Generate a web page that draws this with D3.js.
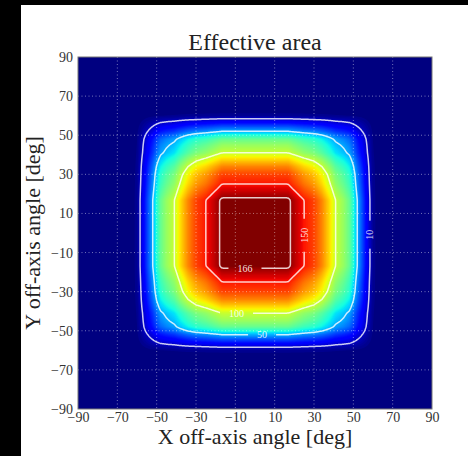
<!DOCTYPE html>
<html>
<head>
<meta charset="utf-8">
<script src="https://cdn.jsdelivr.net/npm/d3@7"></script>
<style>
  body { margin: 0; background: #fff; }
  text { font-family: "Liberation Serif", "DejaVu Serif", serif; }
</style>
</head>
<body>
<svg id="chart"></svg>
<script>
// on-axis effective area profile (cm^2) vs off-axis angle (deg), symmetric
const angles     = [0, 16, 17, 18, 19, 21, 25, 30, 34, 38, 41, 45, 48, 50, 52, 54, 56, 58, 60, 62, 64, 90];
const areaOnAxis = [169, 169, 168.5, 166, 163.5, 159, 150, 142, 130, 114, 100, 90, 80, 66, 50, 37, 24, 12, 3, 0.5, 0, 0];
const peakArea = 169;

const contourLevels = [10, 50, 100, 150, 166];
// where each inline label sits: along-line coordinate + which side
const labelSpots = [
    {level: 10,  along: -0.85, vertical: true},
    {level: 150, along: -1.15, vertical: true},
    {level: 166, along: -5.1,  vertical: false},
    {level: 100, along: -9.4,  vertical: false},
    {level: 50,  along: 3.6,   vertical: false}
];
const tickValues = [-90, -70, -50, -30, -10, 10, 30, 50, 70, 90];

const width = 468, height = 456;
const margin = {top: 57, left: 78, right: 36, bottom: 47};

const svg = d3.select("#chart").attr("width", width).attr("height", height);

svg.append("rect").attr("width", width).attr("height", height).attr("fill", "#fff");
svg.append("rect").attr("width", 21).attr("height", height).attr("fill", "#000");
svg.append("rect").attr("width", width).attr("height", 5).attr("fill", "#000");

const x = d3.scaleLinear().domain([-90, 90]).range([margin.left, width - margin.right]);
const y = d3.scaleLinear().domain([-90, 90]).range([height - margin.bottom, margin.top]);

// jet colormap (matplotlib segment data)
const jr = d3.scaleLinear().domain([0, 0.35, 0.66, 0.89, 1]).range([0, 0, 1, 1, 0.5]).clamp(true);
const jg = d3.scaleLinear().domain([0, 0.125, 0.375, 0.64, 0.91, 1]).range([0, 0, 1, 1, 0, 0]).clamp(true);
const jb = d3.scaleLinear().domain([0, 0.11, 0.34, 0.65, 1]).range([0.5, 1, 1, 0, 0]).clamp(true);
const jet = t => d3.rgb(jr(t) * 255, jg(t) * 255, jb(t) * 255).toString();

// profile lookup and its inverse on the falling part
const profile = d3.scaleLinear().domain(angles).range(areaOnAxis);
const fallIdx = d3.range(2, 21);
const profileInv = d3.scaleLinear()
    .domain(fallIdx.map(i => areaOnAxis[i]))
    .range(fallIdx.map(i => angles[i]));
const area = (ax, ay) => profile(Math.abs(ax)) * profile(Math.abs(ay)) / peakArea;

// grid table for d3.contours
const step = 0.5;
const n = Math.round(180 / step) + 1;
const values = new Float64Array(n * n);
for (let j = 0; j < n; j++) {
    const ay = 90 - j * step;
    for (let i = 0; i < n; i++) {
        values[j * n + i] = area(-90 + i * step, ay);
    }
}
const proj = d3.geoTransform({
    point: function(cx, cy) {
        this.stream.point(x(-90 + (cx - 0.5) * step), y(90 - (cy - 0.5) * step));
    }
});
const path = d3.geoPath(proj);

const defs = svg.append("defs");
defs.append("clipPath").attr("id", "plotclip")
    .append("rect")
    .attr("x", x(-90)).attr("y", y(90))
    .attr("width", x(90) - x(-90)).attr("height", y(-90) - y(90));

const plot = svg.append("g").attr("clip-path", "url(#plotclip)");

plot.append("rect")
    .attr("x", x(-90)).attr("y", y(90))
    .attr("width", x(90) - x(-90)).attr("height", y(-90) - y(90))
    .attr("fill", jet(0));

// colour bands
const bandStep = 1.5;
const bands = d3.contours().size([n, n]).thresholds(d3.range(bandStep, peakArea, bandStep))(values);
plot.append("g")
    .selectAll("path")
    .data(bands)
    .join("path")
    .attr("d", path)
    .attr("fill", d => jet(Math.min(1, (d.value + bandStep / 2) / peakArea)));

// grid
const inner = tickValues.filter(d => Math.abs(d) < 90);
const grid = plot.append("g")
    .attr("stroke", "#fff")
    .attr("stroke-opacity", 0.45)
    .attr("stroke-width", 1)
    .attr("stroke-dasharray", "1,2.5");
grid.selectAll(".gx").data(inner).join("line")
    .attr("x1", d => x(d)).attr("x2", d => x(d))
    .attr("y1", y(90)).attr("y2", y(-90));
grid.selectAll(".gy").data(inner).join("line")
    .attr("y1", d => y(d)).attr("y2", d => y(d))
    .attr("x1", x(-90)).attr("x2", x(90));

// label positions derived from the profile
const labelFont = 10;
const labels = labelSpots.map(s => {
    const other = profileInv(s.level * peakArea / profile(Math.abs(s.along)));
    const txt = String(s.level);
    const w = txt.length * labelFont * 0.5;
    if (s.vertical) {
        return {txt, px: x(other), py: y(s.along), rot: -90, gap: w + 18};
    }
    return {txt, px: x(s.along), py: y(-other), rot: 0, gap: w + 18};
});

const mask = defs.append("mask").attr("id", "labelmask");
mask.append("rect").attr("width", width).attr("height", height).attr("fill", "#fff");
mask.selectAll(".m").data(labels).join("rect")
    .attr("fill", "#000")
    .attr("x", d => d.rot ? d.px - 5 : d.px - d.gap / 2)
    .attr("y", d => d.rot ? d.py - d.gap / 2 : d.py - 5)
    .attr("width", d => d.rot ? 10 : d.gap)
    .attr("height", d => d.rot ? d.gap : 10);

const lines = d3.contours().size([n, n]).thresholds(contourLevels)(values);
plot.append("g")
    .attr("mask", "url(#labelmask)")
    .selectAll("path")
    .data(lines)
    .join("path")
    .attr("d", path)
    .attr("fill", "none")
    .attr("stroke", "#fff")
    .attr("stroke-opacity", 0.8)
    .attr("stroke-width", 1.5);

plot.append("g")
    .selectAll("text")
    .data(labels)
    .join("text")
    .attr("transform", d => `translate(${d.px},${d.py}) rotate(${d.rot})`)
    .attr("text-anchor", "middle")
    .attr("dy", "0.35em")
    .attr("font-size", labelFont)
    .attr("fill", "#fff")
    .attr("fill-opacity", 0.9)
    .text(d => d.txt);

// frame
svg.append("rect")
    .attr("x", x(-90)).attr("y", y(90))
    .attr("width", x(90) - x(-90)).attr("height", y(-90) - y(90))
    .attr("fill", "none").attr("stroke", "#777").attr("stroke-width", 1);

// axes
const fmt = d => d < 0 ? "\u2212" + Math.abs(d) : String(d);
const xAxis = svg.append("g")
    .attr("transform", `translate(0,${y(-90)})`)
    .call(d3.axisBottom(x).tickValues(tickValues).tickFormat(fmt).tickSize(0).tickPadding(3));
const yAxis = svg.append("g")
    .attr("transform", `translate(${x(-90)},0)`)
    .call(d3.axisLeft(y).tickValues(tickValues).tickFormat(fmt).tickSize(0).tickPadding(5));
[xAxis, yAxis].forEach(a => {
    a.select(".domain").remove();
    a.selectAll("text")
        .attr("font-family", "'Liberation Serif', serif")
        .attr("font-size", 14)
        .attr("fill", "#333");
});

svg.append("text")
    .attr("x", (x(-90) + x(90)) / 2).attr("y", 50)
    .attr("text-anchor", "middle")
    .attr("font-size", 24)
    .attr("fill", "#222")
    .text("Effective area");

svg.append("text")
    .attr("x", (x(-90) + x(90)) / 2).attr("y", 444)
    .attr("text-anchor", "middle")
    .attr("font-size", 22)
    .attr("fill", "#222")
    .text("X off-axis angle [deg]");

svg.append("text")
    .attr("transform", `translate(40,${(y(-90) + y(90)) / 2}) rotate(-90)`)
    .attr("text-anchor", "middle")
    .attr("font-size", 22)
    .attr("fill", "#222")
    .text("Y off-axis angle [deg]");
</script>
</body>
</html>
